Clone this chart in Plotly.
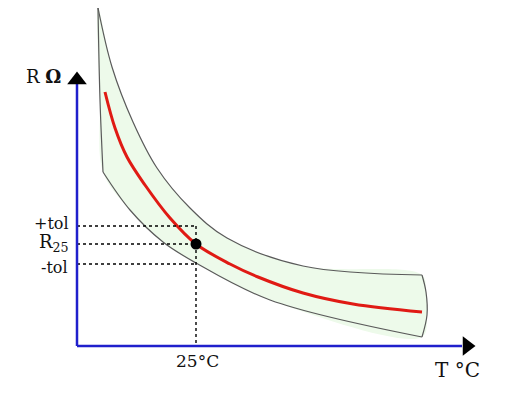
import plotly.graph_objects as go

# Diagram coordinates (canvas units, y grows downward)
upper_x = [98, 112, 133, 157, 190, 227, 303, 422]
upper_y = [8, 67, 122, 168, 208, 238, 266, 275]
right_x = [422, 426, 427, 422]
right_y = [275, 292, 315, 337]
lower_x = [422, 270, 196, 163, 130, 103]
lower_y = [337, 300, 263, 242, 210, 172]
left_x = [103, 100, 98]
left_y = [172, 100, 8]

red_x = [105, 115, 127, 145, 170, 196, 230, 258, 303, 353, 422]
red_y = [92, 128, 157, 185, 218, 244, 264, 277, 293, 304, 312]

r25_x, r25_y = 196, 244
tol_plus_y, tol_minus_y = 226, 264
axis_x0, axis_y0 = 77, 346

band_x = upper_x + right_x[1:] + lower_x[1:] + left_x[1:]
band_y = upper_y + right_y[1:] + lower_y[1:] + left_y[1:]

fig = go.Figure()
fig.add_trace(go.Scatter(x=band_x, y=band_y, mode="lines", fill="toself",
                         fillcolor="#edfaea",
                         line=dict(width=0, color="rgba(0,0,0,0)", shape="spline", smoothing=1),
                         hoverinfo="skip"))
outline = dict(color="#5a5a5a", width=1.2, shape="spline", smoothing=1)
for xs, ys in [(upper_x, upper_y), (right_x, right_y), (lower_x, lower_y), (left_x, left_y)]:
    fig.add_trace(go.Scatter(x=xs, y=ys, mode="lines", line=outline, hoverinfo="skip"))
fig.add_trace(go.Scatter(x=red_x, y=red_y, mode="lines",
                         line=dict(color="#e01a14", width=3, shape="spline", smoothing=1),
                         hoverinfo="skip"))
# dotted guides
for yy in [tol_plus_y, r25_y, tol_minus_y]:
    fig.add_trace(go.Scatter(x=[axis_x0, r25_x], y=[yy, yy], mode="lines",
                             line=dict(color="black", width=1.4, dash="dot"), hoverinfo="skip"))
fig.add_trace(go.Scatter(x=[r25_x, r25_x], y=[tol_plus_y, axis_y0], mode="lines",
                         line=dict(color="black", width=1.4, dash="dot"), hoverinfo="skip"))
# axes
fig.add_trace(go.Scatter(x=[axis_x0, axis_x0], y=[axis_y0, 84], mode="lines",
                         line=dict(color="#2020cc", width=2.5), hoverinfo="skip"))
fig.add_trace(go.Scatter(x=[axis_x0, 462], y=[axis_y0, axis_y0], mode="lines",
                         line=dict(color="#2020cc", width=2.5), hoverinfo="skip"))
fig.add_trace(go.Scatter(x=[axis_x0], y=[80], mode="markers",
                         marker=dict(symbol="triangle-up", size=17, color="black"), hoverinfo="skip"))
fig.add_trace(go.Scatter(x=[467], y=[axis_y0], mode="markers",
                         marker=dict(symbol="triangle-right", size=17, color="black"), hoverinfo="skip"))
fig.add_trace(go.Scatter(x=[r25_x], y=[r25_y], mode="markers",
                         marker=dict(size=11, color="black"), hoverinfo="skip"))

font = "DejaVu Serif"
ann = [
    dict(x=24, y=76, text="R <b>Ω</b>", size=18, xa="left"),
    dict(x=71, y=223, text="+tol", size=16, xa="right"),
    dict(x=71, y=243, text="R<sub>25</sub>", size=18, xa="right"),
    dict(x=70, y=267, text="-tol", size=16, xa="right"),
    dict(x=197, y=361, text="25°C", size=17, xa="center"),
    dict(x=457, y=370, text="T °C", size=20, xa="center"),
]
for a in ann:
    fig.add_annotation(x=a["x"], y=a["y"], text=a["text"], showarrow=False,
                       font=dict(family=font, size=a["size"], color="#111111"),
                       xanchor=a["xa"], yanchor="middle")

# page body has an 8px margin, so shift the canvas ranges to keep pixel alignment
fig.update_layout(width=512, height=397, margin=dict(l=0, r=0, t=0, b=0),
                  paper_bgcolor="white", plot_bgcolor="white", showlegend=False,
                  xaxis=dict(range=[8, 520], visible=False, fixedrange=True),
                  yaxis=dict(range=[405, 8], visible=False, fixedrange=True))
fig.write_html("out.html")
